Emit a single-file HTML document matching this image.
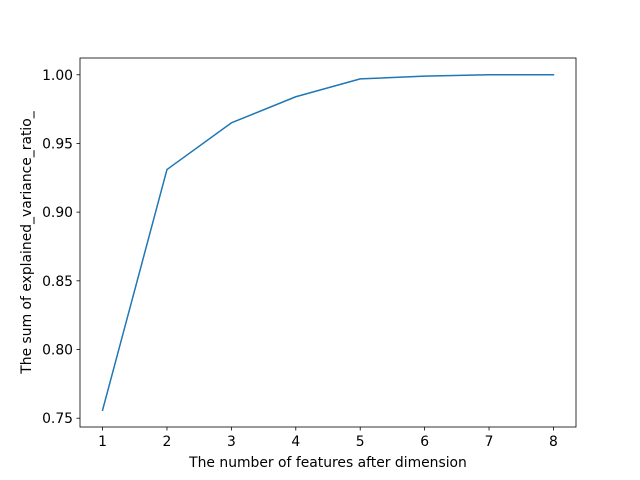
<!DOCTYPE html>
<html><head><meta charset="utf-8"><style>
body{margin:0;background:#fff;}
svg{display:block;font-family:"DejaVu Sans","Liberation Sans",sans-serif;}
</style></head><body>
<svg id="chart" width="640" height="480"></svg>
<script>
const xValues=[1,2,3,4,5,6,7,8];
const yValues=[0.7558,0.931,0.965,0.984,0.997,0.999,1.0,1.0];
const xTicks=[1,2,3,4,5,6,7,8];
const yTicks=[0.75,0.80,0.85,0.90,0.95,1.00];
const NS="http://www.w3.org/2000/svg";
const svg=document.getElementById('chart');
const L=80,R=576,T=58,B=427;
const FS=13.9;
const xmin=Math.min(...xValues),xmax=Math.max(...xValues);
const ymin0=Math.min(...yValues),ymax0=Math.max(...yValues);
const xm=(xmax-xmin)*0.05,ym=(ymax0-ymin0)*0.05;
const X=v=>L+(v-(xmin-xm))/((xmax+xm)-(xmin-xm))*(R-L);
const Y=v=>B-(v-(ymin0-ym))/((ymax0+ym)-(ymin0-ym))*(B-T);
function el(t,a,p){const e=document.createElementNS(NS,t);for(const k in a)e.setAttribute(k,a[k]);(p||svg).appendChild(e);return e;}
const pts=xValues.map((x,i)=>X(x).toFixed(2)+','+Y(yValues[i]).toFixed(2)).join(' ');
const line=el('polyline',{points:pts,fill:'none',stroke:'#1f77b4','stroke-width':1.5,'stroke-linejoin':'round','stroke-linecap':'square'});


const frame=el('rect',{x:L,y:T,width:R-L,height:B-T,fill:'none',stroke:'#000','stroke-width':0.8});


xTicks.forEach(t=>{
  const x=X(t);
  el('line',{x1:x,x2:x,y1:B,y2:B+3.5,stroke:'#000','stroke-width':0.8});
  const tx=el('text',{x:x,y:B+19,'font-size':FS,'text-anchor':'middle'});
  tx.textContent=t;
  
  
});
yTicks.forEach(t=>{
  const y=Y(t);
  el('line',{x1:L,x2:L-3.5,y1:y,y2:y,stroke:'#000','stroke-width':0.8});
  const tx=el('text',{x:L-7,y:y+5,'font-size':FS,'text-anchor':'end'});
  tx.textContent=t.toFixed(2);
  
  
});
const xt=el('text',{x:(L+R)/2,y:467,'font-size':FS,'text-anchor':'middle'});
xt.textContent='The number of features after dimension';


const yt=el('text',{x:0,y:0,'font-size':FS,'text-anchor':'middle',transform:`translate(31,${(T+B)/2}) rotate(-90)`});
yt.textContent='The sum of explained_variance_ratio_';


</script>
</body></html>
